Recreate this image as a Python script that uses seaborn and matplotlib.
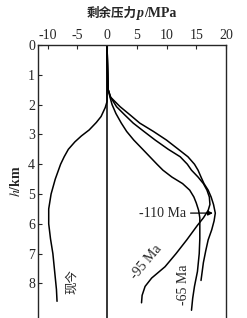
import numpy as np
import pandas as pd
import matplotlib
matplotlib.use("Agg")
import matplotlib.pyplot as plt
import seaborn as sns

# Data (depth h in km, residual pressure p in MPa)
h_now = [0, 1.9, 2.1, 2.4, 2.6, 2.85, 3.05, 3.25, 3.5, 3.75, 4.0, 4.5, 5.0, 5.5, 6.0, 6.5, 7.0, 7.6, 8.2, 8.6]
p_now = [0, 0, -0.3, -1.0, -1.8, -3.0, -4.3, -5.4, -6.5, -7.2, -7.8, -8.7, -9.4, -9.8, -9.8, -9.5, -9.1, -8.8, -8.5, -8.4]

h_65 = [0, 1.5, 1.75, 2.0, 2.3, 2.62, 2.9, 3.19, 3.5, 3.75, 4.0, 4.2, 4.43, 4.65, 4.87, 5.1, 5.3, 5.55, 5.8, 6.05, 6.5, 7.0, 7.6, 8.1, 8.5, 8.9]
p_65 = [0, 0.2, 0.5, 0.85, 1.5, 2.4, 3.3, 4.5, 6.0, 7.2, 8.4, 9.4, 10.9, 12.7, 13.9, 14.6, 15.0, 15.4, 15.6, 15.6, 15.6, 15.5, 15.2, 14.7, 14.4, 14.2]

h_95 = [0, 1.5, 1.75, 2.07, 2.35, 2.62, 2.9, 3.19, 3.5, 3.75, 4.0, 4.2, 4.43, 4.65, 4.87, 5.1, 5.35, 5.55, 5.8, 6.05, 6.54, 7.0, 7.44, 7.82, 8.1, 8.4, 8.65]
p_95 = [0, 0.2, 0.6, 1.6, 3.0, 4.4, 6.2, 8.1, 10.3, 12.3, 13.5, 14.2, 15.3, 16.2, 16.8, 17.2, 17.3, 17.0, 16.2, 15.2, 13.4, 11.6, 9.75, 7.5, 6.4, 5.9, 5.8]

h_110 = [0, 1.5, 1.75, 2.07, 2.35, 2.62, 2.9, 3.19, 3.5, 3.75, 4.0, 4.2, 4.43, 4.65, 4.87, 5.1, 5.35, 5.64, 5.9, 6.2, 6.54, 6.9, 7.3, 7.9]
p_110 = [0, 0.2, 0.6, 2.2, 3.9, 5.5, 7.8, 10.0, 12.0, 13.6, 14.7, 15.3, 15.8, 16.3, 17.0, 17.5, 17.9, 18.2, 18.0, 17.6, 17.0, 16.6, 16.2, 15.8]

x_ticks = [-10, -5, 0, 5, 10, 15, 20]
y_ticks = [0, 1, 2, 3, 4, 5, 6, 7, 8]

# long table for seaborn
frames = []
for name, hh, pp in [("现今", h_now, p_now), ("-65 Ma", h_65, p_65),
                     ("-95 Ma", h_95, p_95), ("-110 Ma", h_110, p_110)]:
    frames.append(pd.DataFrame({"h": hh, "p": pp, "curve": name}))
df = pd.concat(frames, ignore_index=True)

sns.set_style("ticks")
plt.rcParams["font.family"] = ["Liberation Serif", "Noto Sans CJK SC"]
plt.rcParams["mathtext.fontset"] = "stix"
plt.rcParams["axes.unicode_minus"] = False

fig = plt.figure(figsize=(2.47, 3.18), dpi=100)
ax = fig.add_axes([38 / 247, 0.0, (226 - 38) / 247, 1 - 45 / 318])

ax.axvline(0, color="black", lw=1.1)
sns.lineplot(data=df, x="p", y="h", hue="curve", units="curve",
             palette={k: "black" for k in df["curve"].unique()},
             estimator=None, sort=False, legend=False, lw=1.1, ax=ax)

ax.set_xlim(-11.6, 20)
ax.set_ylim(9.16, 0)
ax.set_xticks(x_ticks)
ax.set_yticks(y_ticks)
ax.xaxis.tick_top()
ax.tick_params(direction="in", length=3, width=0.8, labelsize=10, pad=2)
ax.spines["bottom"].set_visible(False)
for s in ["top", "left", "right"]:
    ax.spines[s].set_linewidth(1.0)
ax.set_xlabel("")
ax.set_ylabel("$h$/km", fontsize=10, fontweight="bold", labelpad=4)

# axis title at top, built from pieces so the CJK glyphs and the italic p both render
t1 = fig.text(87 / 247, 1 - 20 / 318, "剩余压力", fontsize=9, fontweight="bold",
              family=["Noto Sans CJK SC"], ha="left", va="bottom")
t2 = ax.annotate("p", xy=(1, 0), xycoords=t1, fontsize=10, fontweight="bold",
                 style="italic", family=["Liberation Serif"], ha="left", va="bottom")
ax.annotate("/MPa", xy=(1, 0), xycoords=t2, fontsize=10, fontweight="bold",
            family=["Liberation Serif"], ha="left", va="bottom")

# curve labels
ax.text(-5.9, 7.95, "现今", rotation=90, fontsize=9, ha="center", va="center",
        family=["Noto Sans CJK SC"])
ax.text(6.6, 7.3, "-95 Ma", rotation=50, fontsize=10, ha="center", va="center")
ax.text(12.8, 8.05, "-65 Ma", rotation=90, fontsize=10, ha="center", va="center")
ax.annotate("-110 Ma", xy=(17.8, 5.64), xytext=(9.3, 5.64), fontsize=10,
            ha="center", va="center",
            arrowprops=dict(arrowstyle="-|>", color="black", lw=0.9,
                            shrinkA=1, shrinkB=0, mutation_scale=7))

fig.savefig("out.png", dpi=100)
